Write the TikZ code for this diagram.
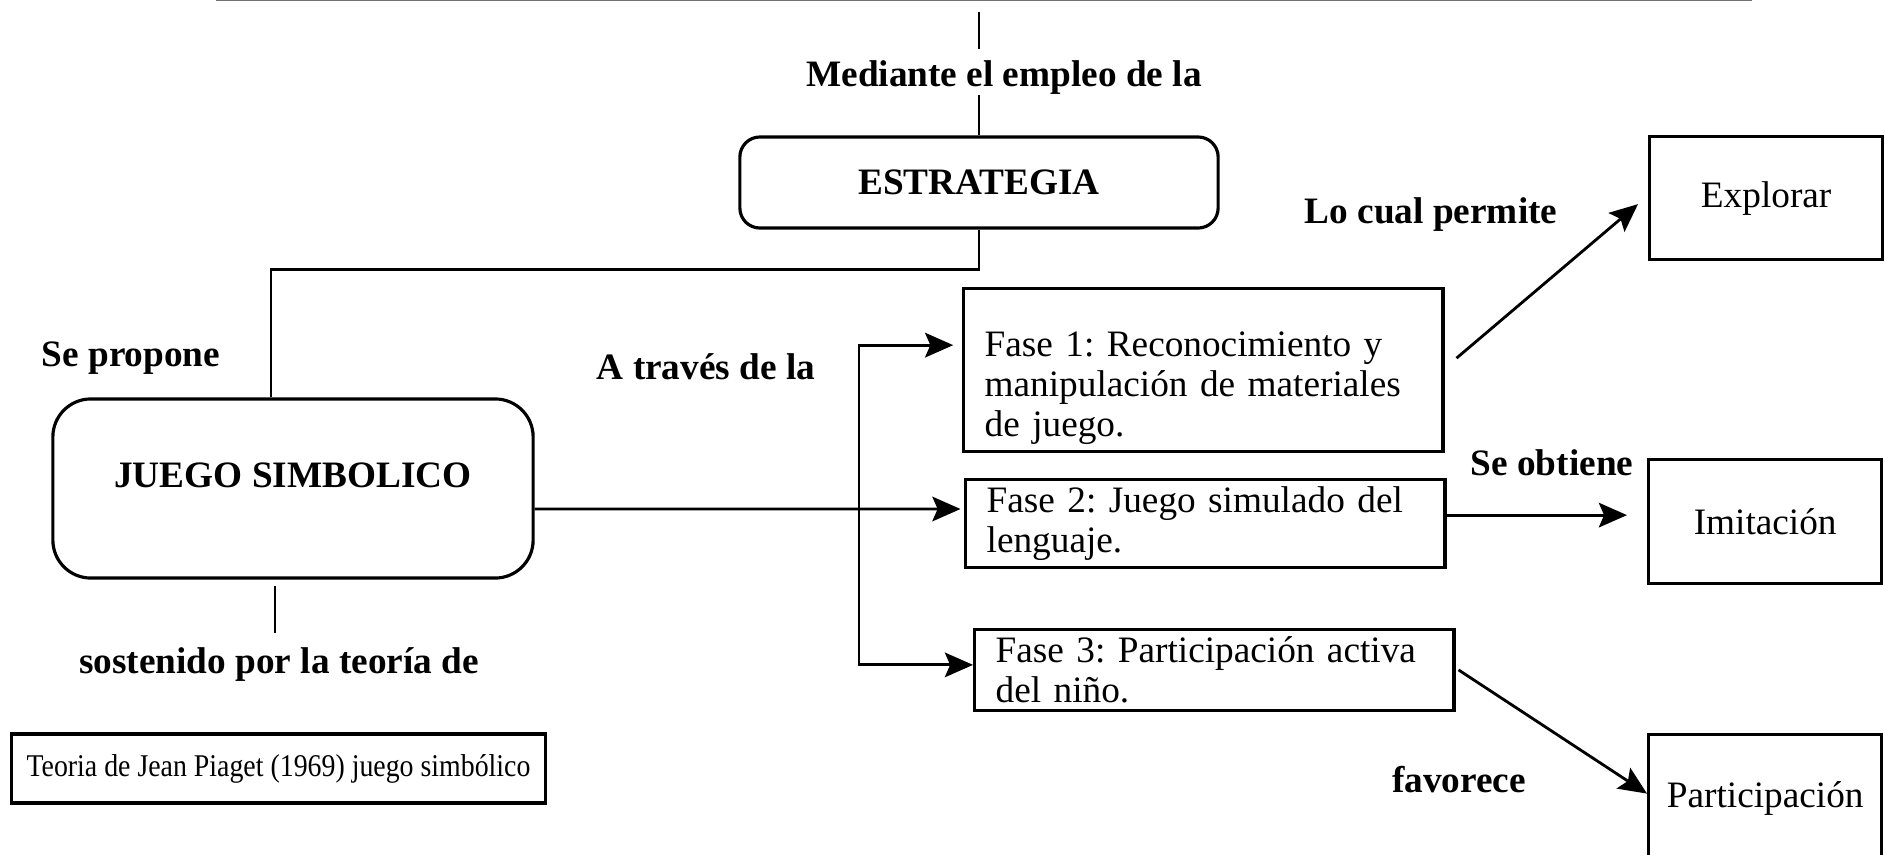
\documentclass[tikz,border=0pt]{standalone}
\usepackage{fontspec}
\setmainfont{Liberation Serif}
\newfontfamily\estrecha[FakeStretch=0.88]{Liberation Serif}
\frenchspacing
\usetikzlibrary{arrows.meta}
\tikzset{
  >={Stealth[length=8pt,width=7pt,inset=1.5pt]},
  linea/.style = {line width=0.8pt},
  caja/.style = {draw, line width=0.9pt, rectangle, inner sep=0pt},
  redonda/.style = {caja, rounded corners=#1},
  etiqueta/.style = {font=\fontsize{10.6}{11.4}\selectfont\bfseries},
  fase/.style = {caja, anchor=north west, text width=124.3pt,
                 inner xsep=6pt, inner ysep=2pt, align=left},
  resultado/.style = {caja, anchor=north west, minimum width=2.33cm},
}

\begin{document}
\begin{tikzpicture}[x=0.01cm, y=-0.01cm, font=\fontsize{10.6}{11.4}\selectfont]
\useasboundingbox (0,0) rectangle (1885,854);
\fill[white] (0,0) rectangle (1885,854);

% caja de arriba (cortada por el borde)
\node[caja, draw=black!55, line width=0.6pt, anchor=south west,
      minimum width=15.33cm, minimum height=1cm] (marco) at (216,1) {};

\node[etiqueta] (mediante) at (1004,78) {Mediante el empleo de la};
\node[redonda=5.7pt, minimum width=4.78cm, minimum height=0.91cm] (estr) at (979,182.5) {\bfseries ESTRATEGIA};

% lado izquierdo
\node[etiqueta] (propone) at (131,358) {Se propone};
\node[redonda=10.8pt, minimum width=4.8cm, minimum height=1.79cm, text depth=7.6pt] (juego) at (293,488.5) {\bfseries JUEGO SIMBOLICO};
\node[etiqueta] (sostenido) at (279,665) {sostenido por la teoría de};
\node[caja, minimum width=5.33cm, minimum height=0.69cm] (teoria) at (278.5,768.5)
     {\estrecha\fontsize{9}{10}\selectfont Teoria de Jean Piaget (1969) juego simbólico};

% fases
\node[etiqueta] (traves) at (706,367) {A través de la};
\node[fase] (fase1) at (962,287)
     {\rule{0pt}{17.3pt}\makebox[116.6pt][s]{Fase 1: Reconocimiento y}\\
      manipulación de materiales\\ de juego.};
\node[fase] (fase2) at (964,478) {Fase 2: Juego simulado del\\ lenguaje.};
\node[fase] (fase3) at (973,628) {Fase 3: Participación activa\\ del niño.};

% resultados
\node[etiqueta] (permite) at (1431,215) {Lo cual permite};
\node[etiqueta] (obtiene) at (1552,463) {Se obtiene};
\node[etiqueta] (favorece) at (1459,780) {favorece};
\node[resultado, minimum height=1.23cm] (explorar) at (1648,135) {Explorar};
\node[resultado, minimum height=1.24cm] (imitacion) at (1647,458) {Imitación};
\node[resultado, minimum height=1.27cm] (participacion) at (1647,733) {Participación};

% conectores
\draw[linea, shorten <=0.11cm] (marco.south -| estr.north) -- (mediante.north -| estr.north);
\draw[linea, shorten <=2.3pt] (mediante.base -| estr.north) -- (estr.north);
\draw[linea] (estr.south) -- ++(0,40) -| ([xshift=-0.22cm]juego.north);
\draw[linea, shorten <=0.06cm, shorten >=0.03cm] ([xshift=-0.18cm]juego.south)
     -- ([xshift=-0.18cm]juego.south |- sostenido.north);

\coordinate (rama) at (859,509);
\draw[linea, ->, shorten >=1pt] ([yshift=-0.205cm]juego.east) -- (rama -| fase2.west);
\draw[linea, ->, shorten >=2.5pt] (rama) |- ([yshift=0.25cm]fase1.west);
\draw[linea, ->] (rama) |- ([yshift=0.05cm]fase3.west);

\draw[linea, ->] ([xshift=0.12cm, yshift=0.12cm]fase1.east) -- ([xshift=-0.1cm, yshift=-0.06cm]explorar.west);
\draw[linea, ->, shorten >=5.7pt] ([yshift=0.085cm]fase2.east) -- ([yshift=0.085cm]fase2.east -| imitacion.west);
\draw[linea, ->] ([xshift=0.03cm]fase3.east) -- ([yshift=0.045cm]participacion.west);
\end{tikzpicture}
\end{document}
